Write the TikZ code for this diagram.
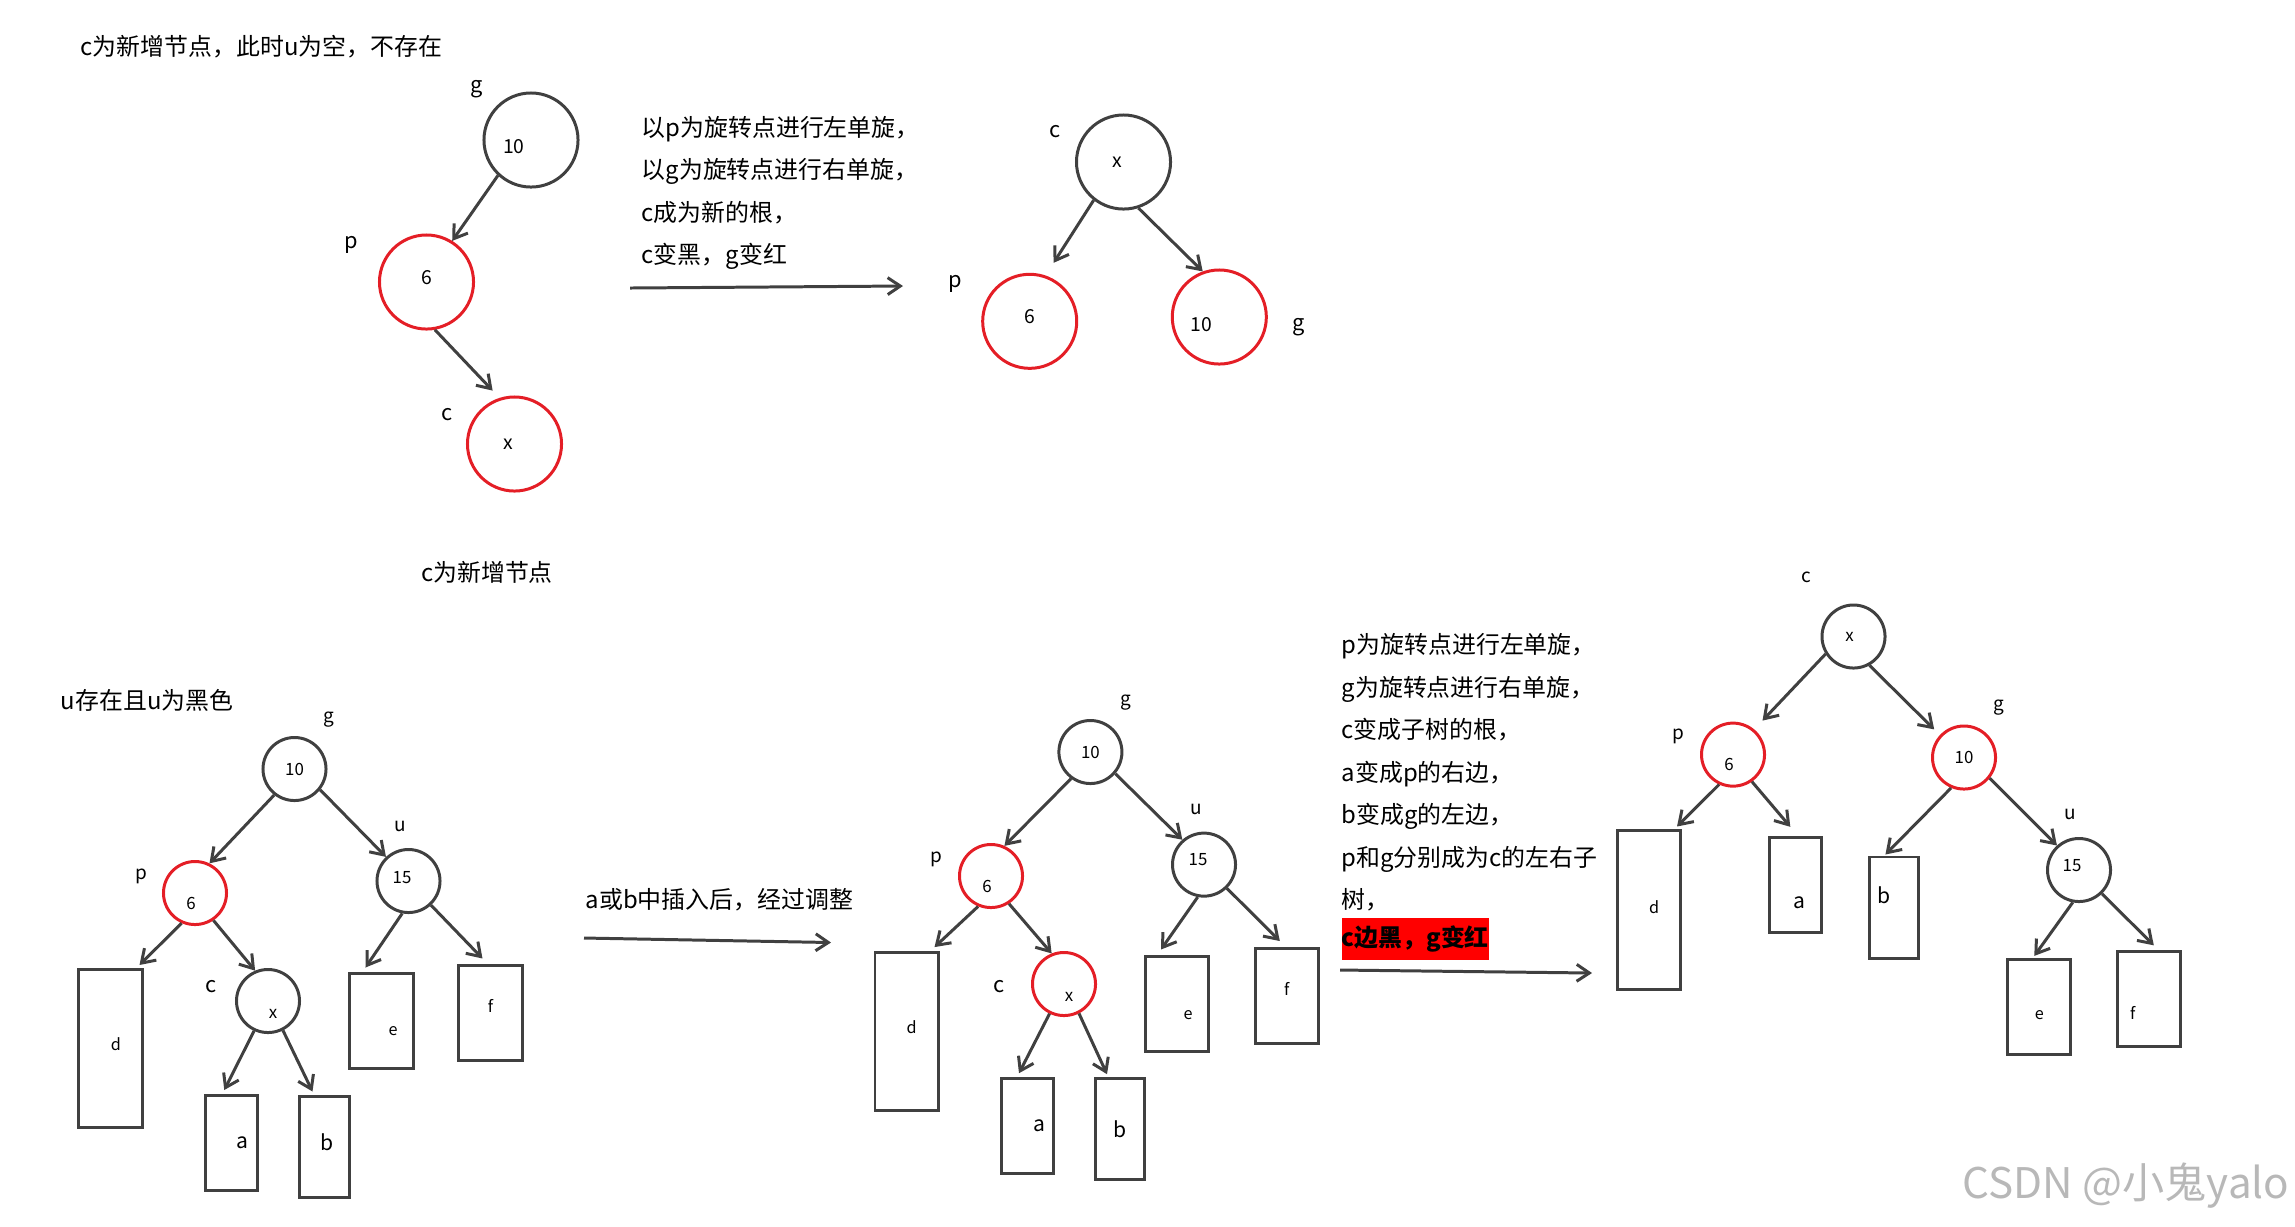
\documentclass[tikz,border=0pt]{standalone}
\usepackage{fontspec}
\setmainfont{Noto Sans CJK SC}
\usepackage{xcolor}
\usepackage{tikz}
\usetikzlibrary{arrows.meta,calc}

\definecolor{ln}{RGB}{64,64,64}
\definecolor{rd}{RGB}{228,30,38}
\newcommand{\sh}[3]{\raisebox{#2}[\height][\depth]{\makebox[0pt][c]{\hspace*{#1}#3}}}

\begin{document}
\begin{tikzpicture}[x=0.01cm, y=-0.01cm,
  bn/.style={draw=ln, circle, line width=0.85pt, minimum size=0.94cm, inner sep=0pt,
             font=\fontsize{5.5}{6}\selectfont},
  rn/.style={bn, draw=rd},
  sn/.style={draw=ln, circle, line width=0.85pt, minimum size=0.63cm, inner sep=0pt,
             font=\fontsize{4.8}{5}\selectfont},
  srn/.style={sn, draw=rd},
  box/.style={draw=ln, line width=0.85pt, inner sep=0pt, font=\fontsize{4.6}{5}\selectfont},
  tall/.style={box, minimum width=0.63cm, minimum height=1.58cm},
  sq/.style={box, minimum width=0.63cm, minimum height=0.95cm},
  abox/.style={box, minimum width=0.52cm, minimum height=0.95cm, font=\fontsize{6}{7}\selectfont},
  bbox/.style={box, minimum width=0.49cm, minimum height=1.01cm, font=\fontsize{6}{7}\selectfont},
  lbl/.style={inner sep=0pt, font=\fontsize{6.2}{7}\selectfont},
  slbl/.style={inner sep=0pt, font=\fontsize{5.4}{6}\selectfont},
  txt/.style={inner sep=0pt, align=left, font=\fontsize{6.8}{12.1}\selectfont},
  hl/.style={fill=red, inner sep=0pt, minimum width=1.46cm, minimum height=0.42cm,
             font=\fontsize{6.8}{8}\selectfont\bfseries},
  ar/.style={draw=ln, line width=0.85pt, -{Straight Barb[length=3.6pt,width=4.8pt]}}
]
  \useasboundingbox (0,0) rectangle (2295,1226);

  \node[txt, anchor=west] (t1) at (80,47) {c为新增节点，此时u为空，不存在};
  \node[bn] (g1) at (531,140) {\sh{-0.34cm}{-0.07cm}{10}};
  \node[rn] (p1) at (426.5,282) {\sh{0cm}{0.04cm}{6}};
  \node[rn] (c1) at (514.5,444) {\sh{-0.12cm}{0cm}{x}};
  \node[lbl] (lg1) at (477,89) {g};
  \node[lbl] (lp1) at (351,245) {p};
  \node[lbl] (lc1) at (447,415) {c};
  \node[txt] (new1) at (487,572) {c为新增节点};
  \draw[ar] (g1.227) -- (p1.58);
  \draw[ar, shorten >=1mm] (p1.280) -- (c1.108);

  \node[txt, anchor=west] (s1) at (641,193) {以p为旋转点进行左单旋，\\以g为旋转点进行右单旋，\\c成为新的根，\\c变黑，g变红};
  \coordinate (a1s) at (630,288);
  \coordinate (a1e) at (903,286);
  \draw[ar] (a1s) -- (a1e);

  \node[bn] (c2) at (1123.5,162) {\sh{-0.12cm}{0cm}{x}};
  \node[rn] (p2) at (1029.7,321.3) {\sh{0cm}{0.05cm}{6}};
  \node[rn] (g2) at (1219.3,317) {\sh{-0.36cm}{-0.08cm}{10}};
  \node[lbl] (lc2) at (1055,132) {c};
  \node[lbl] (lp2) at (955,284) {p};
  \node[lbl] (lg2) at (1299,327) {g};
  \draw[ar, shorten >=1.5mm] (c2.232) -- (p2.71);
  \draw[ar] (c2.288) -- (g2.110);

  \node[txt] (t2) at (147,700) {u存在且u为黑色};
  \node[sn] (g3) at (294.5,769) {10};
  \node[srn] (p3) at (195,893) {\sh{-0.08cm}{-0.1cm}{6}};
  \node[sn] (u3) at (408.5,881) {\sh{-0.13cm}{0.03cm}{15}};
  \node[sn] (c3) at (268,1001) {\sh{0.1cm}{-0.13cm}{x}};
  \node[tall] (d3) at (110.5,1048.5) {\sh{0.11cm}{0.04cm}{d}};
  \node[abox] (a3) at (231.8,1143) {\sh{0.22cm}{0cm}{a}};
  \node[bbox] (b3) at (324.5,1146.5) {\sh{0.05cm}{0.04cm}{b}};
  \node[sq] (e3) at (381.5,1020.5) {\sh{0.23cm}{-0.11cm}{e}};
  \node[sq] (f3) at (490.5,1012.5) {\sh{0cm}{0.065cm}{f}};
  \node[slbl] (lg3) at (329,720) {g};
  \node[slbl] (lu3) at (400,826) {u};
  \node[slbl] (lp3) at (141,876) {p};
  \node[lbl] (lc3) at (211,987) {c};
  \draw[ar] (g3.232) -- (p3.64);
  \draw[ar] (g3.321) -- (u3.133);
  \draw[ar] (p3.246) -- ($(d3.north east)+(-4,-3)$);
  \draw[ar] (p3.304) -- (c3.113);
  \draw[ar] (c3.245) -- ($(a3.north west)+(20,-4)$);
  \draw[ar] (c3.297) -- ($(b3.north west)+(14,-3)$);
  \draw[ar] (u3.259) -- ($(e3.north west)+(17,-4)$);
  \draw[ar] (u3.313) -- ($(f3.north west)+(25,-5)$);

  \node[txt] (s2) at (719.5,900) {a或b中插入后，经过调整};
  \coordinate (a2s) at (584,938);
  \coordinate (a2e) at (831,942.5);
  \draw[ar] (a2s) -- (a2e);

  \node[sn] (g4) at (1090.4,752) {10};
  \node[srn] (p4) at (991,876) {\sh{-0.08cm}{-0.1cm}{6}};
  \node[sn] (u4) at (1204,864.6) {\sh{-0.12cm}{0.05cm}{15}};
  \node[srn] (c4) at (1064,984) {\sh{0.1cm}{-0.13cm}{x}};
  \node[tall] (d4) at (906.5,1031.6) {\sh{0.1cm}{0.04cm}{d}};
  \node[abox] (a4) at (1027.5,1126.2) {\sh{0.23cm}{0cm}{a}};
  \node[bbox] (b4) at (1120,1129.2) {b};
  \node[sq] (e4) at (1177,1003.5) {\sh{0.22cm}{-0.115cm}{e}};
  \node[sq] (f4) at (1286.8,996) {\sh{0cm}{0.07cm}{f}};
  \node[slbl] (lg4) at (1125.5,703) {g};
  \node[slbl] (lu4) at (1196,809.5) {u};
  \node[slbl] (lp4) at (936,859) {p};
  \node[lbl] (lc4) at (999.5,987) {c};
  \draw[ar] (g4.234) -- (p4.66);
  \draw[ar] (g4.319) -- (u4.131);
  \draw[ar] (p4.247) -- ($(d4.north east)+(-5,-4)$);
  \draw[ar] (p4.303) -- (c4.112);
  \draw[ar] (c4.244) -- ($(a4.north west)+(19,-4)$);
  \draw[ar] (c4.297) -- ($(b4.north west)+(13,-3)$);
  \draw[ar] (u4.259) -- ($(e4.north west)+(17,-5)$);
  \draw[ar] (u4.314) -- ($(f4.north west)+(26,-6)$);

  \node[txt, anchor=west] (s3) at (1341,772.5) {p为旋转点进行左单旋，\\g为旋转点进行右单旋，\\c变成子树的根，\\a变成p的右边，\\b变成g的左边，\\p和g分别成为c的左右子\\树，};
  \node[hl, anchor=west] (s4) at (1341,939) {c边黑，g变红};
  \coordinate (a3s) at (1340,970);
  \coordinate (a3e) at (1592,973);
  \draw[ar] (a3s) -- (a3e);

  \node[sn] (c5) at (1853.5,636.5) {\sh{-0.08cm}{0cm}{x}};
  \node[srn] (p5) at (1733,754.6) {\sh{-0.08cm}{-0.1cm}{6}};
  \node[srn] (g5) at (1964,757.5) {10};
  \node[sn] (u5) at (2079,870) {\sh{-0.14cm}{0.04cm}{15}};
  \node[tall] (d5) at (1649,910) {\sh{0.1cm}{0.03cm}{d}};
  \node[abox] (a5) at (1795.8,884.8) {\sh{0.08cm}{-0.18cm}{a}};
  \node[bbox] (b5) at (1894.4,907.5) {\sh{-0.2cm}{0.12cm}{b}};
  \node[sq] (e5) at (2039.3,1006.9) {\sh{0cm}{-0.08cm}{e}};
  \node[sq] (f5) at (2148.8,999.3) {\sh{-0.32cm}{-0.14cm}{f}};
  \node[slbl] (lc5) at (1806,577) {c};
  \node[slbl] (lp5) at (1678,736) {p};
  \node[slbl] (lg5) at (1998.7,708) {g};
  \node[slbl] (lu5) at (2069.8,814) {u};
  \draw[ar, shorten >=1.2mm] (c5.212) -- (p5.50);
  \draw[ar, shorten >=0.8mm] (c5.299) -- (g5.137);
  \draw[ar] (p5.245) -- ($(d5.north east)+(-5,-3)$);
  \draw[ar] (p5.305) -- ($(a5.north west)+(22,-9)$);
  \draw[ar] (g5.247) -- ($(b5.north west)+(17,-1)$);
  \draw[ar] (g5.321) -- (u5.132);
  \draw[ar] (u5.259) -- ($(e5.north west)+(28,-2)$);
  \draw[ar] (u5.314) -- ($(f5.north west)+(38,-5)$);

  \node[inner sep=0pt, text=black!28, font=\fontsize{12}{14}\selectfont] (wm) at (2126,1186) {CSDN @小鬼yalo};
\end{tikzpicture}
\end{document}
